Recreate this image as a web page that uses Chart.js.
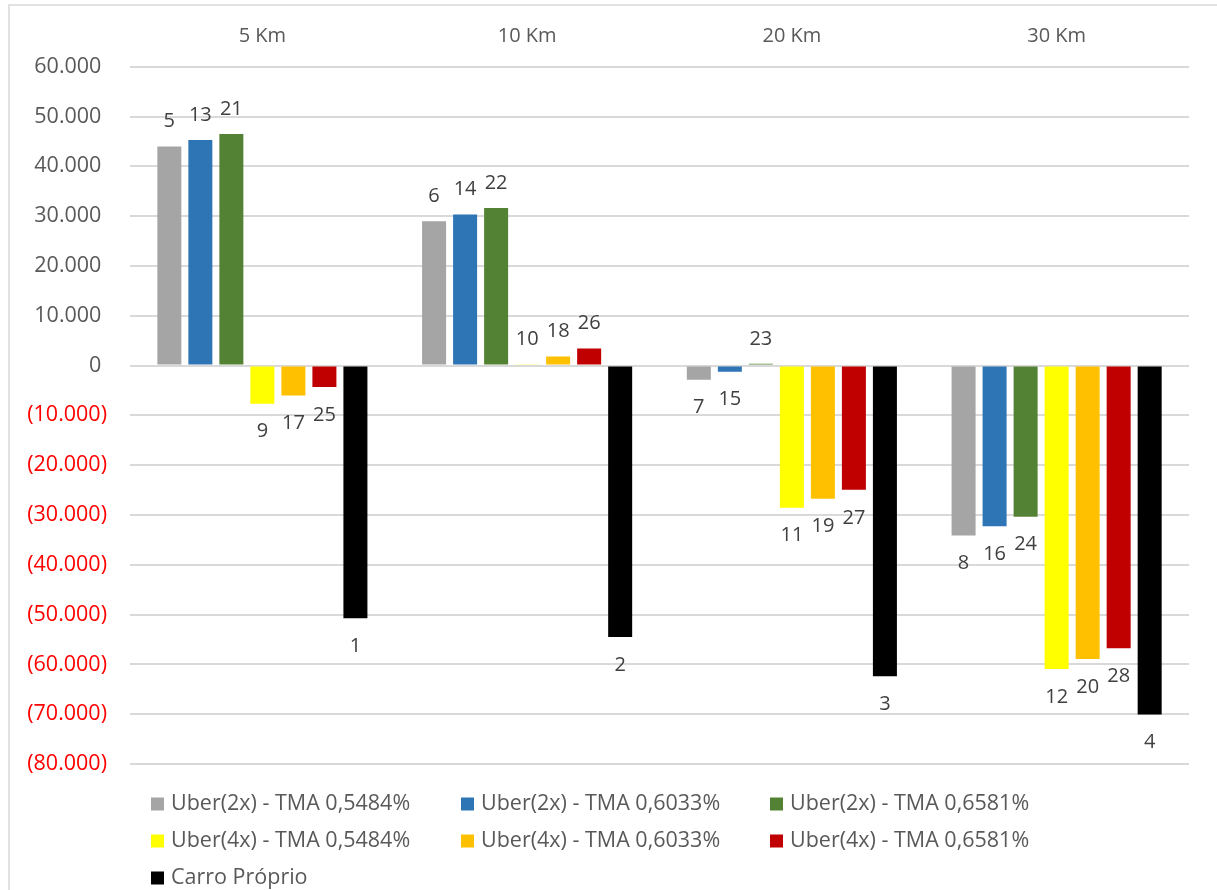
<!DOCTYPE html>
<html>
<head>
<meta charset="utf-8">
<script src="https://cdn.jsdelivr.net/npm/chart.js@4/dist/chart.umd.min.js"></script>
<style>
html,body{margin:0;padding:0;background:#fff;}
#wrap{position:relative;width:1217px;height:890px;}
</style>
</head>
<body>
<div id="wrap"><canvas id="c" width="1217" height="890"></canvas></div>
<script>
const categories = ['5 Km', '10 Km', '20 Km', '30 Km'];
const seriesNames = [
  'Uber(2x) - TMA 0,5484%', 'Uber(2x) - TMA 0,6033%', 'Uber(2x) - TMA 0,6581%',
  'Uber(4x) - TMA 0,5484%', 'Uber(4x) - TMA 0,6033%', 'Uber(4x) - TMA 0,6581%',
  'Carro Próprio'
];
const uber2x_5484 = [44000, 28950, -2850, -34100];
const uber2x_6033 = [45300, 30350, -1250, -32250];
const uber2x_6581 = [46500, 31650, 350, -30350];
const uber4x_5484 = [-7650, 250, -28550, -60950];
const uber4x_6033 = [-6000, 1800, -26750, -58900];
const uber4x_6581 = [-4300, 3400, -24950, -56750];
const carroProprio = [-50750, -54500, -62400, -70050];

const labels2x_5484 = ['5', '6', '7', '8'];
const labels2x_6033 = ['13', '14', '15', '16'];
const labels2x_6581 = ['21', '22', '23', '24'];
const labels4x_5484 = ['9', '10', '11', '12'];
const labels4x_6033 = ['17', '18', '19', '20'];
const labels4x_6581 = ['25', '26', '27', '28'];
const labelsCarro = ['1', '2', '3', '4'];

const colors = ['#a5a5a5', '#2e75b6', '#548235', '#ffff00', '#ffc000', '#c00000', '#000000'];
const seriesValues = [uber2x_5484, uber2x_6033, uber2x_6581, uber4x_5484, uber4x_6033, uber4x_6581, carroProprio];
const seriesLabels = [labels2x_5484, labels2x_6033, labels2x_6581, labels4x_5484, labels4x_6033, labels4x_6581, labelsCarro];

const FONT = '"Open Sans", "DejaVu Sans", sans-serif';

function fmt(v) {
  const a = Math.abs(v).toString().replace(/\B(?=(\d{3})+(?!\d))/g, '.');
  return v < 0 ? '(' + a + ')' : a + ' ';
}

const datasets = seriesNames.map((n, i) => ({
  label: n,
  data: seriesValues[i],
  pointLabels: seriesLabels[i],
  backgroundColor: colors[i],
  borderWidth: 0,
  categoryPercentage: 0.82,
  barPercentage: 0.774
}));

const framePlugin = {
  id: 'frame',
  beforeDraw(chart) {
    const ctx = chart.ctx;
    ctx.save();
    ctx.strokeStyle = '#d9d9d9';
    ctx.lineWidth = 1.5;
    ctx.beginPath();
    ctx.moveTo(9, 890);
    ctx.lineTo(9, 5);
    ctx.lineTo(1217, 5);
    ctx.stroke();
    ctx.restore();
  }
};

const barLabelPlugin = {
  id: 'barLabels',
  afterDatasetsDraw(chart) {
    const ctx = chart.ctx;
    ctx.save();
    ctx.font = '20px ' + FONT;
    ctx.fillStyle = '#404040';
    ctx.textAlign = 'center';
    ctx.textBaseline = 'middle';
    chart.data.datasets.forEach((ds, di) => {
      const meta = chart.getDatasetMeta(di);
      meta.data.forEach((el, i) => {
        const v = ds.data[i];
        const y = v >= 0 ? el.y - 25 : el.y + 28;
        ctx.fillText(ds.pointLabels[i], el.x, y);
      });
    });
    ctx.restore();
  }
};

const legendPlugin = {
  id: 'gridLegend',
  afterDraw(chart) {
    const ctx = chart.ctx;
    ctx.save();
    ctx.font = '21.5px ' + FONT;
    ctx.textBaseline = 'middle';
    ctx.textAlign = 'left';
    const colX = [151, 461, 770];
    const rowY = [804, 841, 878];
    chart.data.datasets.forEach((ds, i) => {
      const x = colX[i % 3];
      const y = rowY[Math.floor(i / 3)];
      ctx.fillStyle = ds.backgroundColor;
      ctx.fillRect(x, y - 6.5, 13, 13);
      ctx.fillStyle = '#595959';
      ctx.fillText(ds.label, x + 20, y);
    });
    ctx.restore();
  }
};

new Chart(document.getElementById('c'), {
  type: 'bar',
  data: { labels: categories, datasets },
  options: {
    responsive: false,
    animation: false,
    layout: { padding: { left: 0, right: 28, top: 0, bottom: 126 } },
    plugins: {
      legend: { display: false },
      tooltip: { enabled: false }
    },
    scales: {
      x: {
        position: 'top',
        grid: { display: false, drawTicks: false },
        border: { display: false },
        ticks: { color: '#595959', font: { size: 20, family: FONT }, padding: 18, maxRotation: 0 },
        afterFit(scale) { scale.height = 66.7; }
      },
      y: {
        min: -80000,
        max: 60000,
        grid: { color: '#d9d9d9', lineWidth: 2, drawTicks: false },
        border: { display: false },
        ticks: {
          stepSize: 10000,
          padding: 23,
          font: { size: 21.5, family: FONT },
          color: (c) => (c.tick && c.tick.value < 0 ? '#ff0000' : '#595959'),
          callback: (v) => fmt(v)
        },
        afterFit(scale) { scale.width = 130; }
      }
    }
  },
  plugins: [framePlugin, barLabelPlugin, legendPlugin]
});
</script>
</body>
</html>
